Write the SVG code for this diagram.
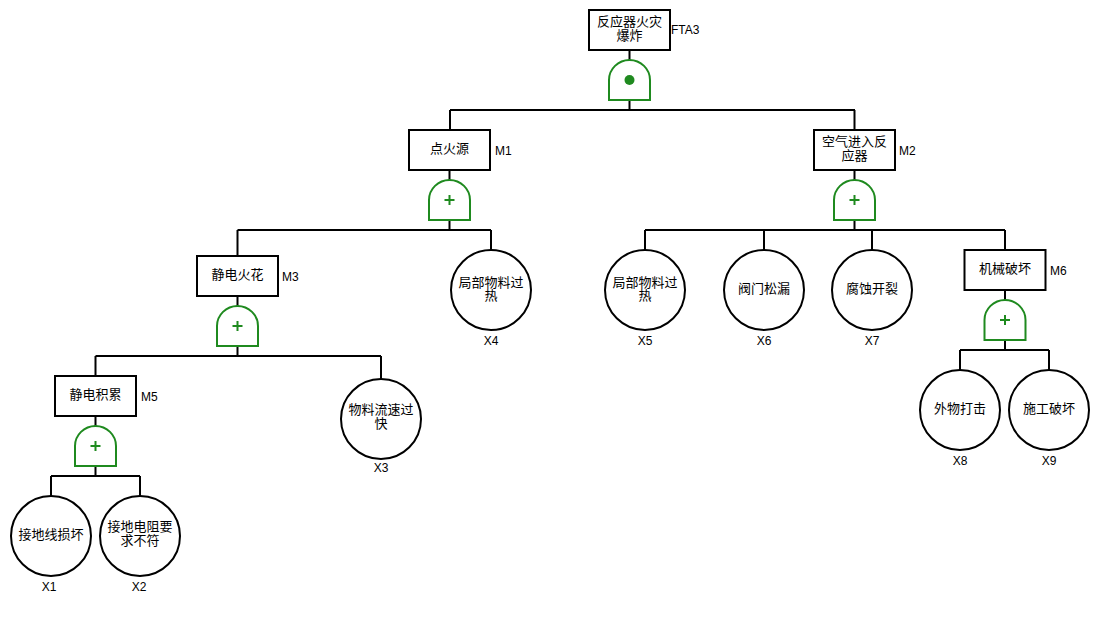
<svg xmlns="http://www.w3.org/2000/svg" width="1099" height="636" viewBox="0 0 1099 636">
<defs>
<style>
.box{fill:#fff;stroke:#000;stroke-width:2}
.ev{fill:#fff;stroke:#000;stroke-width:2}
.gate{fill:#fff;stroke:#1f8a1f;stroke-width:2}
.plus{stroke:#1f8a1f;stroke-width:2;fill:none}
.ln{stroke:#000;stroke-width:2;fill:none}
.t{font-family:"Liberation Sans","Noto Sans CJK SC",sans-serif;font-size:13px;fill:#000;text-anchor:middle}
.lb{font-family:"Liberation Sans","Noto Sans CJK SC",sans-serif;font-size:12px;fill:#000}
.lc{font-family:"Liberation Sans",sans-serif;font-size:12px;fill:#000;text-anchor:middle}
</style>
<path id="g" d="M0,0 L0,-20 A20.5,20 0 0 1 41,-20 L41,0 Z"/>
</defs>
<rect width="1099" height="636" fill="#fff"/>
<g id="connectors">
<path class="ln" d="M629.5,50 V60 M629.5,100 V110 M450,110 H855 M450,110 V130 M854.5,110 V130"/>
<path class="ln" d="M449.5,170 V180 M449.5,220 V230 M237.5,230 H491 M237.5,230 V256 M491,230 V250"/>
<path class="ln" d="M854.5,170 V180 M854.5,220 V230 M645,230 H1005 M645,230 V250 M764,230 V250 M872,230 V250 M1005,230 V250"/>
<path class="ln" d="M237.5,296 V306 M237.5,346 V356 M95.5,356 H381 M95.5,356 V376 M381,356 V379"/>
<path class="ln" d="M95.5,416 V426 M95.5,466 V476 M51,476 H140 M51,476 V496 M140,476 V496"/>
<path class="ln" d="M1005,290 V300 M1005,340 V350 M960,350 H1049 M960,350 V370 M1049,350 V370"/>
</g>
<g id="FTA3">
<rect class="box" x="589" y="10" width="81" height="40"/>
<text class="t" x="629.5" y="26">反应器火灾</text>
<text class="t" x="629.5" y="40">爆炸</text>
<text class="lb" x="671" y="34">FTA3</text>
<use href="#g" class="gate" x="609" y="100"/>
<circle cx="629.5" cy="80" r="5" fill="#1f8a1f"/>
</g>
<g id="M1">
<rect class="box" x="409" y="130" width="81" height="40"/>
<text class="t" x="449.5" y="153">点火源</text>
<text class="lb" x="495" y="155">M1</text>
<use href="#g" class="gate" x="429" y="220"/>
<path class="plus" d="M444.5,200 H454.5 M449.5,195 V205"/>
</g>
<g id="M2">
<rect class="box" x="814" y="130" width="81" height="40"/>
<text class="t" x="854.5" y="146">空气进入反</text>
<text class="t" x="854.5" y="160">应器</text>
<text class="lb" x="899" y="155">M2</text>
<use href="#g" class="gate" x="834" y="220"/>
<path class="plus" d="M849.5,200 H859.5 M854.5,195 V205"/>
</g>
<g id="M3">
<rect class="box" x="197" y="256" width="81" height="40"/>
<text class="t" x="237.5" y="279">静电火花</text>
<text class="lb" x="282" y="281">M3</text>
<use href="#g" class="gate" x="217" y="346"/>
<path class="plus" d="M232.5,326 H242.5 M237.5,321 V331"/>
</g>
<g id="M5">
<rect class="box" x="55" y="376" width="81" height="40"/>
<text class="t" x="95.5" y="399">静电积累</text>
<text class="lb" x="141" y="401">M5</text>
<use href="#g" class="gate" x="75" y="466"/>
<path class="plus" d="M90.5,446 H100.5 M95.5,441 V451"/>
</g>
<g id="M6">
<rect class="box" x="964.5" y="250" width="81" height="40"/>
<text class="t" x="1005" y="273">机械破坏</text>
<text class="lb" x="1050" y="275">M6</text>
<use href="#g" class="gate" x="984.5" y="340"/>
<path class="plus" d="M1000,320 H1010 M1005,315 V325"/>
</g>
<g id="X4">
<circle class="ev" cx="491" cy="290" r="40"/>
<text class="t" x="491" y="287">局部物料过</text>
<text class="t" x="491" y="300">热</text>
<text class="lc" x="491" y="345">X4</text>
</g>
<g id="X5">
<circle class="ev" cx="645" cy="290" r="40"/>
<text class="t" x="645" y="287">局部物料过</text>
<text class="t" x="645" y="300">热</text>
<text class="lc" x="645" y="345">X5</text>
</g>
<g id="X6">
<circle class="ev" cx="764" cy="290" r="40"/>
<text class="t" x="764" y="293">阀门松漏</text>
<text class="lc" x="764" y="345">X6</text>
</g>
<g id="X7">
<circle class="ev" cx="872" cy="290" r="40"/>
<text class="t" x="872" y="293">腐蚀开裂</text>
<text class="lc" x="872" y="345">X7</text>
</g>
<g id="X3">
<circle class="ev" cx="381" cy="419" r="40"/>
<text class="t" x="381" y="414">物料流速过</text>
<text class="t" x="381" y="428">快</text>
<text class="lc" x="381" y="472">X3</text>
</g>
<g id="X1">
<circle class="ev" cx="51" cy="536" r="40"/>
<text class="t" x="51" y="539">接地线损坏</text>
<text class="lc" x="49" y="591">X1</text>
</g>
<g id="X2">
<circle class="ev" cx="140" cy="536" r="40"/>
<text class="t" x="140" y="531">接地电阻要</text>
<text class="t" x="140" y="545">求不符</text>
<text class="lc" x="139" y="591">X2</text>
</g>
<g id="X8">
<circle class="ev" cx="960" cy="410" r="40"/>
<text class="t" x="960" y="413">外物打击</text>
<text class="lc" x="960" y="465">X8</text>
</g>
<g id="X9">
<circle class="ev" cx="1049" cy="410" r="40"/>
<text class="t" x="1049" y="413">施工破坏</text>
<text class="lc" x="1049" y="465">X9</text>
</g>
</svg>
